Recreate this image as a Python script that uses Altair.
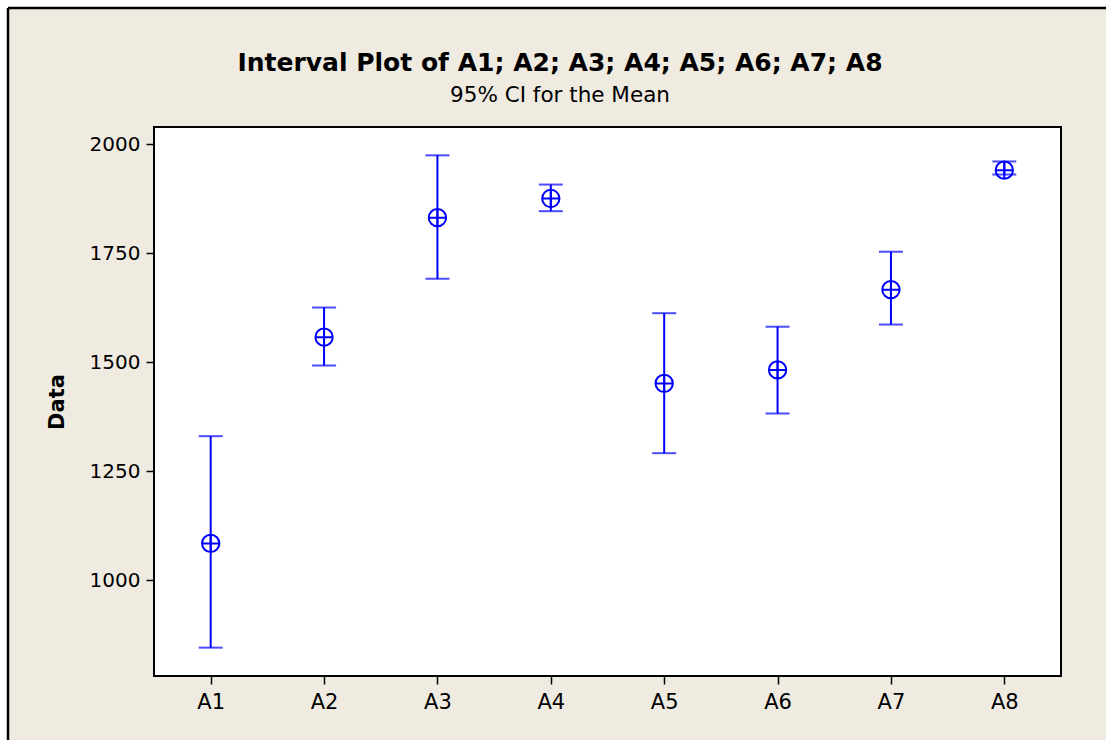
import altair as alt
import pandas as pd

categories = ["A1", "A2", "A3", "A4", "A5", "A6", "A7", "A8"]
means = [1084, 1557, 1831, 1875, 1451, 1482, 1666, 1940]
lower = [845, 1492, 1691, 1846, 1291, 1382, 1586, 1930]
upper = [1330, 1625, 1974, 1907, 1612, 1581, 1753, 1960]
y_ticks = [1000, 1250, 1500, 1750, 2000]
TITLE = "Interval Plot of A1; A2; A3; A4; A5; A6; A7; A8"
SUBTITLE = "95% CI for the Mean"
Y_TITLE = "Data"

BEIGE = "#EFEBE1"
BLUE = "#0000FF"
FONT = "DejaVu Sans"
W, H = 907, 549

df = pd.DataFrame({"cat": categories, "mean": means, "lower": lower, "upper": upper})
caps = pd.DataFrame({"cat": categories * 2, "v": lower + upper})
one = alt.Data(values=[{}])

xscale = alt.Scale(type="point", padding=0.5, domain=categories)
yscale = alt.Scale(domain=[780, 2039], nice=False, zero=False)

xaxis = alt.Axis(title=None, labelAngle=0, domain=False, grid=False, ticks=True,
                 tickSize=8, tickWidth=1.5, tickColor="black", labelPadding=7,
                 labelFont=FONT, labelFontSize=21, labelColor="black", zindex=1)
yaxis = alt.Axis(title=Y_TITLE, values=y_ticks, format="d", domain=False, grid=False, ticks=True,
                 tickSize=8, tickWidth=1.5, tickColor="black", labelPadding=6,
                 labelFont=FONT, labelFontSize=20, labelColor="black",
                 titleFont=FONT, titleFontSize=21, titleFontWeight="bold", titleColor="black",
                 titleAngle=270, titleX=-91, titleY=H / 2, titleAlign="center",
                 titleBaseline="alphabetic", zindex=1)

# outer frame: white strips above/left, black lines top/left (figure border)
strip_top = alt.Chart(one).mark_rect(fill="white").encode(
    x=alt.value(-160), y=alt.value(-130), x2=alt.value(1000), y2=alt.value(-119))
strip_left = alt.Chart(one).mark_rect(fill="white").encode(
    x=alt.value(-160), y=alt.value(-130), x2=alt.value(-146), y2=alt.value(700))
line_top = alt.Chart(one).mark_rule(color="black", strokeWidth=2.5).encode(
    x=alt.value(-146), x2=alt.value(1000), y=alt.value(-119))
line_left = alt.Chart(one).mark_rule(color="black", strokeWidth=2.5).encode(
    x=alt.value(-146), y=alt.value(-119), y2=alt.value(700))
plotbg = alt.Chart(one).mark_rect(fill="white", stroke="black", strokeWidth=2).encode(
    x=alt.value(0), y=alt.value(0), x2=alt.value(W), y2=alt.value(H))

title = alt.Chart(one).mark_text(text=TITLE, font=FONT, fontSize=25, fontWeight="bold",
                                 align="center", baseline="alphabetic", color="black").encode(
    x=alt.value(406), y=alt.value(-56))
subtitle = alt.Chart(one).mark_text(text=SUBTITLE, font=FONT, fontSize=21.5,
                                    align="center", baseline="alphabetic", color="black").encode(
    x=alt.value(406), y=alt.value(-25))

bars = alt.Chart(df).mark_rule(color=BLUE, strokeWidth=2).encode(
    x=alt.X("cat:N", scale=xscale, axis=xaxis),
    y=alt.Y("lower:Q", scale=yscale, axis=yaxis),
    y2="upper:Q")

capmarks = alt.Chart(caps).mark_tick(color=BLUE, size=24, thickness=2, orient="horizontal").encode(
    x=alt.X("cat:N", scale=xscale),
    y=alt.Y("v:Q", scale=yscale))

symbol = "M-1,0A1,1,0,1,1,1,0A1,1,0,1,1,-1,0Z M-1,0L1,0 M0,-1L0,1"
points = alt.Chart(df).mark_point(shape=symbol, size=300, filled=False, color=BLUE,
                                  strokeWidth=2, opacity=1).encode(
    x=alt.X("cat:N", scale=xscale),
    y=alt.Y("mean:Q", scale=yscale))

chart = alt.layer(strip_top, strip_left, line_top, line_left, plotbg, bars, capmarks,
                  points, title, subtitle).properties(
    width=W, height=H,
    autosize=alt.AutoSizeParams(type="none"),
    padding={"left": 154, "top": 127, "right": 45, "bottom": 64},
    background=BEIGE,
).configure_view(stroke=None, fill=None)

chart.save("out.html", embed_options={"renderer": "svg", "actions": False})
